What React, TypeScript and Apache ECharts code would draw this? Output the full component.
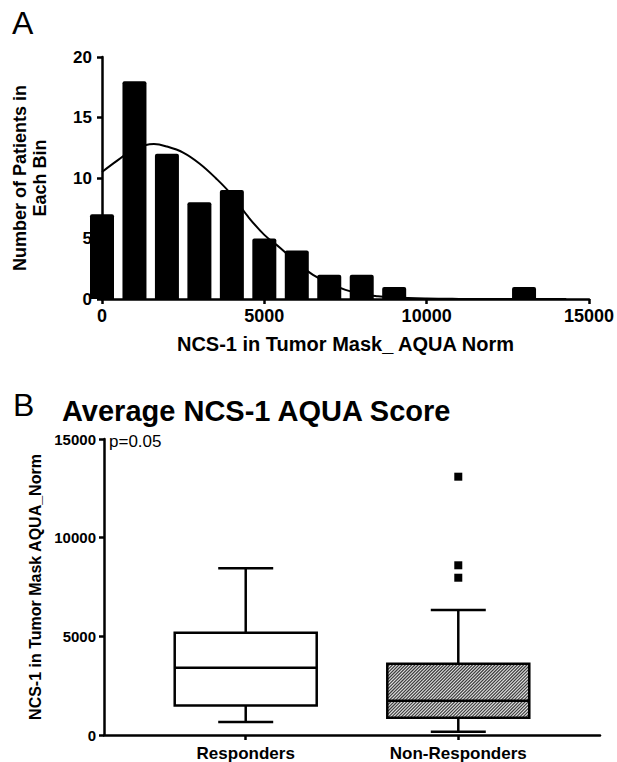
import React, { useEffect, useRef } from 'react';
import * as echarts from 'echarts';

// ---------- Panel A: histogram ----------
const histBinCenters = [0, 1000, 2000, 3000, 4000, 5000, 6000, 7000, 8000, 9000, 10000, 11000, 12000, 13000, 14000];
const histCounts = [7, 18, 12, 8, 9, 5, 4, 2, 2, 1, 0, 0, 0, 1, 0];
// fitted curve
const fitX = [0, 500, 1000, 1600, 2000, 2500, 3000, 3500, 4000, 4500, 5000, 5500, 6000, 6500, 7000, 7500, 8000, 8500, 9000, 10000, 11000, 12000, 13000, 14300];
const fitY = [10.5, 11.5, 12.4, 12.8, 12.6, 12.1, 11.2, 10.0, 8.6, 6.8, 5.3, 4.2, 3.0, 2.0, 1.3, 0.75, 0.4, 0.22, 0.12, 0.04, 0.01, 0, 0, 0];
const histXTicks = [0, 5000, 10000, 15000];
const histYTicks = [0, 5, 10, 15, 20];

// ---------- Panel B: box plots ----------
const groups = ['Responders', 'Non-Responders'];
const groupMin = [660, 170];
const groupQ1 = [1500, 880];
const groupMedian = [3410, 1740];
const groupQ3 = [5180, 3610];
const groupMax = [8450, 6340];
const outlierGroups = ['Non-Responders', 'Non-Responders', 'Non-Responders'];
const outlierValues = [13090, 8600, 7970];
const boxYTicks = [0, 5000, 10000, 15000];

// ---------- layout / style ----------
const FONT = "'Liberation Sans', Arial, Helvetica, sans-serif";
const SLOT_COUNT = 8;
const GROUP_SLOTS = [2, 5];
const HATCHED_GROUP = 'Non-Responders';
const BOX_HALF = 71;
const CAP_HALF = 27.5;
const LW = 2.5;

const slotCategories = Array.from({ length: SLOT_COUNT }, (_, i) => {
  const g = GROUP_SLOTS.indexOf(i);
  return g >= 0 ? groups[g] : `_slot${i}`;
});
const isGroupSlot = (i: number) => GROUP_SLOTS.indexOf(i) >= 0;

function renderBox(params: any, api: any) {
  const slot = api.value(0);
  const name = groups[params.dataIndex];
  const pMin = api.coord([slot, api.value(1)]);
  const pQ1 = api.coord([slot, api.value(2)]);
  const pMed = api.coord([slot, api.value(3)]);
  const pQ3 = api.coord([slot, api.value(4)]);
  const pMax = api.coord([slot, api.value(5)]);
  const cx = pMin[0];
  const x0 = cx - BOX_HALF;
  const x1 = cx + BOX_HALF;
  const yTop = pQ3[1];
  const yBot = pQ1[1];
  const hatched = name === HATCHED_GROUP;
  const children: any[] = [];
  children.push({
    type: 'rect',
    shape: { x: x0, y: yTop, width: x1 - x0, height: yBot - yTop },
    style: { fill: hatched ? '#e2e2e2' : '#ffffff', stroke: 'none' },
  });
  if (hatched) {
    for (let c = x0 + yTop; c <= x1 + yBot; c += 3.2) {
      const xa = Math.max(x0, c - yBot);
      const xb = Math.min(x1, c - yTop);
      if (xa < xb) {
        children.push({
          type: 'line',
          shape: { x1: xa, y1: c - xa, x2: xb, y2: c - xb },
          style: { stroke: '#3a3a3a', lineWidth: 1.1 },
        });
      }
    }
  }
  const ls = { stroke: '#000', lineWidth: LW, fill: 'none' };
  children.push({ type: 'line', shape: { x1: cx, y1: yTop, x2: cx, y2: pMax[1] }, style: ls });
  children.push({ type: 'line', shape: { x1: cx, y1: yBot, x2: cx, y2: pMin[1] }, style: ls });
  children.push({ type: 'line', shape: { x1: cx - CAP_HALF, y1: pMax[1], x2: cx + CAP_HALF, y2: pMax[1] }, style: ls });
  children.push({ type: 'line', shape: { x1: cx - CAP_HALF, y1: pMin[1], x2: cx + CAP_HALF, y2: pMin[1] }, style: ls });
  children.push({
    type: 'rect',
    shape: { x: x0, y: yTop, width: x1 - x0, height: yBot - yTop },
    style: ls,
  });
  children.push({ type: 'line', shape: { x1: x0, y1: pMed[1], x2: x1, y2: pMed[1] }, style: ls });
  return { type: 'group', children };
}

const axisLineStyle = { color: '#000', width: 2.5 };

const option: any = {
  animation: false,
  backgroundColor: '#fff',
  textStyle: { fontFamily: FONT },
  title: [
    {
      text: 'Average NCS-1 AQUA Score',
      left: 62,
      top: 396,
      padding: 0,
      textStyle: { fontFamily: FONT, fontSize: 29, fontWeight: 'bold', color: '#000' },
    },
  ],
  graphic: [
    { type: 'text', left: 12, top: 7, style: { text: 'A', font: `normal 32px ${FONT}`, fill: '#000' } },
    { type: 'text', left: 13, top: 389, style: { text: 'B', font: `normal 32px ${FONT}`, fill: '#000' } },
    { type: 'text', left: 109, top: 433, style: { text: 'p=0.05', font: `normal 17px ${FONT}`, fill: '#000' } },
  ],
  grid: [
    { left: 102, right: 28, top: 57, bottom: 463, containLabel: false },
    { left: 104, right: 17, top: 439, bottom: 27, containLabel: false },
  ],
  xAxis: [
    {
      gridIndex: 0,
      type: 'value',
      min: 0,
      max: 15000,
      interval: 5000,
      name: 'NCS-1 in Tumor Mask_ AQUA Norm',
      nameLocation: 'middle',
      nameGap: 35,
      nameTextStyle: { fontFamily: FONT, fontSize: 20, fontWeight: 'bold', color: '#000' },
      axisLine: { show: true, onZero: false, lineStyle: axisLineStyle },
      axisTick: { show: true, length: 5, lineStyle: axisLineStyle },
      axisLabel: {
        margin: 8,
        fontFamily: FONT,
        fontSize: 18,
        fontWeight: 'bold',
        color: '#000',
        formatter: (v: number) => (histXTicks.indexOf(v) >= 0 ? String(v) : ''),
      },
      splitLine: { show: false },
    },
    {
      gridIndex: 1,
      type: 'category',
      data: slotCategories,
      boundaryGap: false,
      axisLine: { show: true, onZero: false, lineStyle: axisLineStyle },
      axisTick: { show: true, length: 5, interval: (i: number) => isGroupSlot(i), lineStyle: axisLineStyle },
      axisLabel: {
        margin: 10,
        interval: (i: number) => isGroupSlot(i),
        fontFamily: FONT,
        fontSize: 17,
        fontWeight: 'bold',
        color: '#000',
      },
      splitLine: { show: false },
    },
  ],
  yAxis: [
    {
      gridIndex: 0,
      type: 'value',
      min: 0,
      max: 20,
      interval: 5,
      name: 'Number of Patients in\nEach Bin',
      nameLocation: 'middle',
      nameGap: 52,
      nameTextStyle: { fontFamily: FONT, fontSize: 18, fontWeight: 'bold', color: '#000', lineHeight: 20, align: 'center' },
      axisLine: { show: true, lineStyle: axisLineStyle },
      axisTick: { show: true, length: 5, lineStyle: axisLineStyle },
      axisLabel: {
        margin: 10,
        fontFamily: FONT,
        fontSize: 17,
        fontWeight: 'bold',
        color: '#000',
        formatter: (v: number) => (histYTicks.indexOf(v) >= 0 ? String(v) : ''),
      },
      splitLine: { show: false },
    },
    {
      gridIndex: 1,
      type: 'value',
      min: 0,
      max: 15000,
      interval: 5000,
      name: 'NCS-1 in Tumor Mask AQUA_Norm',
      nameLocation: 'middle',
      nameGap: 57,
      nameTextStyle: { fontFamily: FONT, fontSize: 16, fontWeight: 'bold', color: '#000' },
      axisLine: { show: true, lineStyle: axisLineStyle },
      axisTick: { show: true, length: 5, lineStyle: axisLineStyle },
      axisLabel: {
        margin: 8,
        fontFamily: FONT,
        fontSize: 15,
        fontWeight: 'bold',
        color: '#000',
        formatter: (v: number) => (boxYTicks.indexOf(v) >= 0 ? String(v) : ''),
      },
      splitLine: { show: false },
    },
  ],
  series: [
    {
      type: 'bar',
      xAxisIndex: 0,
      yAxisIndex: 0,
      data: histBinCenters.map((c, i) => [c, histCounts[i]]),
      barWidth: 24,
      clip: false,
      itemStyle: { color: '#000', borderRadius: [2, 2, 0, 0] },
      z: 2,
    },
    {
      type: 'line',
      xAxisIndex: 0,
      yAxisIndex: 0,
      data: fitX.map((x, i) => [x, fitY[i]]),
      smooth: 0.4,
      showSymbol: false,
      symbol: 'none',
      lineStyle: { color: '#000', width: 2 },
      z: 3,
    },
    {
      type: 'custom',
      xAxisIndex: 1,
      yAxisIndex: 1,
      renderItem: renderBox,
      encode: { x: 0, y: [1, 2, 3, 4, 5] },
      data: groups.map((g, i) => [
        GROUP_SLOTS[i],
        groupMin[i],
        groupQ1[i],
        groupMedian[i],
        groupQ3[i],
        groupMax[i],
      ]),
      z: 2,
    },
    {
      type: 'scatter',
      xAxisIndex: 1,
      yAxisIndex: 1,
      symbol: 'rect',
      symbolSize: 8,
      itemStyle: { color: '#000', opacity: 1 },
      data: outlierValues.map((v, i) => [GROUP_SLOTS[groups.indexOf(outlierGroups[i])], v]),
      z: 3,
    },
  ],
};

export default function App() {
  const ref = useRef<HTMLDivElement>(null);
  useEffect(() => {
    document.body.style.margin = '0';
    const chart = echarts.init(ref.current as HTMLDivElement, null, { renderer: 'svg' });
    chart.setOption(option);
    return () => chart.dispose();
  }, []);
  return <div ref={ref} style={{ width: 617, height: 762 }} />;
}
